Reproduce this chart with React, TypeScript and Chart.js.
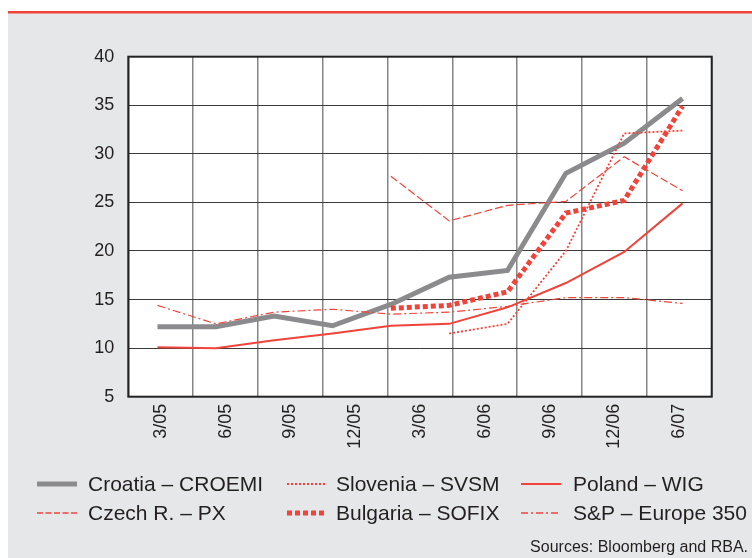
import React, { useEffect, useRef } from 'react';
import { Chart, registerables } from 'chart.js';

Chart.register(...registerables);

// Visible axis labels (9 columns)
const axisLabels = ['3/05', '6/05', '9/05', '12/05', '3/06', '6/06', '9/06', '12/06', '6/07'];
// Observation dates (10 evenly spaced observations across the axis)
const obsDates = ['3/05', '6/05', '9/05', '12/05', '3/06', '6/06', '9/06', '12/06', '3/07', '6/07'];

const croatia = [12.2, 12.2, 13.3, 12.3, 14.5, 17.3, 18.0, 28.0, 31.1, 35.7];
const slovenia = [null, null, null, null, null, 11.5, 12.5, 20.0, 32.1, 32.4];
const poland = [10.1, 10.0, 10.8, 11.5, 12.3, 12.5, 14.2, 16.7, 19.9, 24.9];
const czech = [null, null, null, null, 27.7, 23.1, 24.7, 25.1, 29.7, 26.2];
const bulgaria = [null, null, null, null, 14.1, 14.4, 15.8, 23.9, 25.2, 34.9];
const spEurope = [14.4, 12.5, 13.7, 14.0, 13.5, 13.7, 14.3, 15.2, 15.2, 14.6];

const yMin = 5;
const yMax = 40;
const yStep = 5;

const RED = '#f0443a';
const GREY = '#8b8b8d';
const BG = '#e6e7e8';
const TEXT = '#231f20';
const FONT = '"Liberation Sans", Arial, Helvetica, sans-serif';

type Item = { label: string; color: string; width: number; dash: number[] };
const legendItems: Item[][] = [
  [
    { label: 'Croatia – CROEMI', color: GREY, width: 5, dash: [] },
    { label: 'Slovenia – SVSM', color: RED, width: 1.8, dash: [2, 2] },
    { label: 'Poland – WIG', color: RED, width: 2, dash: [] },
  ],
  [
    { label: 'Czech R. – PX', color: RED, width: 1.5, dash: [6, 2.5] },
    { label: 'Bulgaria – SOFIX', color: RED, width: 5, dash: [5, 3] },
    { label: 'S&P – Europe 350', color: RED, width: 1.5, dash: [7, 3, 2, 3] },
  ],
];
const sourceText = 'Sources: Bloomberg and RBA.';

const backgroundPlugin = {
  id: 'bgPlugin',
  beforeDraw(chart: any) {
    const { ctx, width, height, chartArea } = chart;
    ctx.save();
    ctx.fillStyle = '#ffffff';
    ctx.fillRect(0, 0, width, height);
    ctx.fillStyle = BG;
    ctx.fillRect(0, 5, width, height - 5);
    ctx.fillStyle = RED;
    ctx.fillRect(0, 3, width, 2.5);
    ctx.fillStyle = '#ffffff';
    ctx.fillRect(chartArea.left, chartArea.top, chartArea.right - chartArea.left, chartArea.bottom - chartArea.top);
    ctx.restore();
  },
  beforeDatasetsDraw(chart: any) {
    const { ctx, chartArea } = chart;
    ctx.save();
    ctx.strokeStyle = '#222222';
    ctx.lineWidth = 2;
    ctx.strokeRect(chartArea.left, chartArea.top, chartArea.right - chartArea.left, chartArea.bottom - chartArea.top);
    ctx.restore();
  },
  afterDraw(chart: any) {
    const { ctx } = chart;
    ctx.save();
    const colSample = [29, 279, 513];
    const colText = [80, 328, 565];
    const rowY = [476, 505];
    ctx.font = `21px ${FONT}`;
    ctx.textBaseline = 'middle';
    ctx.textAlign = 'left';
    legendItems.forEach((row, r) => {
      row.forEach((it, c) => {
        ctx.beginPath();
        ctx.strokeStyle = it.color;
        ctx.lineWidth = it.width;
        ctx.lineCap = 'butt';
        ctx.setLineDash(it.dash);
        ctx.moveTo(colSample[c], rowY[r]);
        ctx.lineTo(colSample[c] + 40, rowY[r]);
        ctx.stroke();
        ctx.setLineDash([]);
        ctx.fillStyle = TEXT;
        ctx.fillText(it.label, colText[c], rowY[r] + 1);
      });
    });
    ctx.font = `16px ${FONT}`;
    ctx.textAlign = 'right';
    ctx.fillText(sourceText, 740, 540);
    ctx.restore();
  },
};

export default function App() {
  const ref = useRef<HTMLCanvasElement | null>(null);

  useEffect(() => {
    if (!ref.current) return;
    Chart.defaults.font.family = FONT;
    const mk = (label: string, data: (number | null)[], color: string, width: number, dash: number[], order: number) => ({
      label,
      data,
      borderColor: color,
      backgroundColor: color,
      borderWidth: width,
      borderDash: dash,
      borderCapStyle: 'butt' as const,
      borderJoinStyle: 'miter' as const,
      pointRadius: 0,
      tension: 0,
      fill: false,
      xAxisID: 'xd',
      yAxisID: 'y',
      order,
    });
    const chart = new Chart(ref.current, {
      type: 'line',
      data: {
        labels: obsDates,
        datasets: [
          mk('Croatia – CROEMI', croatia, GREY, 5, [], 10),
          mk('Poland – WIG', poland, RED, 2, [], 5),
          mk('S&P – Europe 350', spEurope, RED, 1.2, [8, 3, 2, 3], 4),
          mk('Czech R. – PX', czech, RED, 1.2, [8, 3], 3),
          mk('Slovenia – SVSM', slovenia, RED, 1.8, [2, 2], 2),
          mk('Bulgaria – SOFIX', bulgaria, RED, 5, [5, 3], 1),
        ],
      },
      options: {
        responsive: false,
        animation: false,
        layout: { padding: { top: 48.7, right: 40.3, bottom: 81.3, left: 0 } },
        plugins: { legend: { display: false }, tooltip: { enabled: false } },
        scales: {
          xd: {
            type: 'category',
            labels: obsDates,
            offset: true,
            display: false,
          },
          x: {
            type: 'category',
            labels: axisLabels,
            offset: true,
            position: 'bottom',
            grid: { offset: true, color: '#858585', lineWidth: 1.5, drawTicks: false },
            border: { display: false },
            ticks: {
              autoSkip: false,
              maxRotation: 90,
              minRotation: 90,
              padding: 7,
              color: TEXT,
              font: { size: 18, family: FONT },
            },
            afterFit: (s: any) => {
              s.height = 80;
            },
          },
          y: {
            type: 'linear',
            min: yMin,
            max: yMax,
            position: 'left',
            grid: { color: '#3a3a3a', lineWidth: 1, drawTicks: false },
            border: { display: false },
            ticks: {
              stepSize: yStep,
              padding: 14,
              color: TEXT,
              font: { size: 18, family: FONT },
            },
            afterFit: (s: any) => {
              s.width = 120.3;
            },
          },
        },
      },
      plugins: [backgroundPlugin],
    } as any);
    return () => chart.destroy();
  }, []);

  return (
    <div style={{ position: 'fixed', left: 8, top: 8, width: 744, height: 550 }}>
      <canvas ref={ref} width={744} height={550} style={{ display: 'block' }} />
    </div>
  );
}
